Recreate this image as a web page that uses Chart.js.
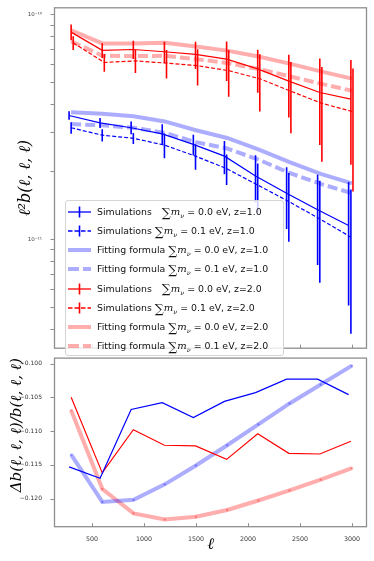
<!DOCTYPE html>
<html>
<head>
<meta charset="utf-8">
<script src="https://cdn.jsdelivr.net/npm/chart.js@4.4.1/dist/chart.umd.min.js"></script>
<style>
  html, body { margin: 0; padding: 0; background: #fff; }
  #wrap { position: relative; width: 374px; height: 561px; overflow: hidden; }
  #top { position: absolute; left: 0; top: 0; }
  #bottom { position: absolute; left: 0; top: 350px; }
  #legend {
    position: absolute; left: 65px; top: 200px; width: 217px; height: 154px;
    background: rgba(255,255,255,0.8); border: 1px solid #d4d4d4; border-radius: 3px;
    font-family: 'DejaVu Sans'; font-size: 9.4px; color: #111;
  }
  .row { position: absolute; left: 0; width: 100%; height: 16px; white-space: nowrap; }
  .row svg { position: absolute; left: 2px; top: 0; }
  .row .txt { position: absolute; left: 31px; top: 0; line-height: 16px; }
  .sum { font-family: 'DejaVu Serif'; font-size: 12.5px; vertical-align: -1.5px; }
  .m { font-family: 'DejaVu Serif'; font-style: italic; font-size: 10px; }
  .nu { font-family: 'DejaVu Serif'; font-style: italic; font-size: 6.5px; vertical-align: -2.5px; }
</style>
</head>
<body>
<div id="wrap">
  <canvas id="top" width="374" height="356"></canvas>
  <canvas id="bottom" width="374" height="211"></canvas>
  <div id="legend"></div>
</div>
<script>
// multipole bins
const ellFit = [300, 600, 900, 1200, 1500, 1800, 2100, 2400, 2700, 3000];
const ellSimB0 = [280, 578, 877, 1176, 1475, 1774, 2073, 2372, 2670, 2968];
const ellSimB1 = [300, 599, 898, 1197, 1496, 1795, 2094, 2393, 2691, 2990];
const ellSimR0 = [300, 599, 898, 1197, 1496, 1795, 2094, 2393, 2691, 2990];
const ellSimR1 = [320, 619, 918, 1217, 1516, 1815, 2114, 2413, 2711, 3010];

// top panel: l^2 b(l,l,l)
const simB0 = [3.55e-11, 3.29e-11, 3.13e-11, 2.94e-11, 2.64e-11, 2.34e-11, 1.91e-11, 1.60e-11, 1.35e-11, 1.15e-11];
const errB0 = [0.155e-11, 0.17e-11, 0.204e-11, 0.305e-11, 0.277e-11, 0.396e-11, 0.452e-11, 0.49e-11, 0.583e-11, 0.644e-11];
const simB1 = [3.13e-11, 2.90e-11, 2.81e-11, 2.62e-11, 2.34e-11, 2.06e-11, 1.74e-11, 1.47e-11, 1.23e-11, 1.02e-11];
const errB1 = [0.184e-11, 0.179e-11, 0.159e-11, 0.328e-11, 0.304e-11, 0.319e-11, 0.428e-11, 0.497e-11, 0.59e-11, 0.641e-11];
const fitB0 = [3.67e-11, 3.61e-11, 3.52e-11, 3.34e-11, 3.05e-11, 2.82e-11, 2.51e-11, 2.20e-11, 1.95e-11, 1.77e-11];
const fitB1 = [3.25e-11, 3.21e-11, 3.13e-11, 2.97e-11, 2.70e-11, 2.53e-11, 2.26e-11, 1.97e-11, 1.76e-11, 1.60e-11];
const simR0 = [8.34e-11, 6.92e-11, 6.98e-11, 6.82e-11, 6.64e-11, 6.32e-11, 5.72e-11, 5.05e-11, 4.49e-11, 4.20e-11];
const errR0 = [0.67e-11, 0.52e-11, 0.65e-11, 0.74e-11, 0.92e-11, 1.26e-11, 1.24e-11, 1.57e-11, 1.87e-11, 2.06e-11];
const simR1 = [7.47e-11, 6.11e-11, 6.21e-11, 6.07e-11, 5.91e-11, 5.62e-11, 5.17e-11, 4.55e-11, 4.02e-11, 3.69e-11];
const errR1 = [0.52e-11, 0.56e-11, 0.73e-11, 0.88e-11, 1.08e-11, 1.32e-11, 1.47e-11, 1.59e-11, 1.81e-11, 2.06e-11];
const fitR0 = [8.50e-11, 7.43e-11, 7.43e-11, 7.47e-11, 7.20e-11, 6.90e-11, 6.50e-11, 6.04e-11, 5.58e-11, 5.18e-11];
const fitR1 = [7.59e-11, 6.55e-11, 6.52e-11, 6.55e-11, 6.32e-11, 6.08e-11, 5.72e-11, 5.30e-11, 4.92e-11, 4.57e-11];

// bottom panel: relative difference
const ratioSimB = [-0.1153, -0.1170, -0.1068, -0.1058, -0.1080, -0.1056, -0.1043, -0.1023, -0.1023, -0.1046];
const ratioSimR = [-0.1050, -0.1162, -0.1098, -0.1121, -0.1122, -0.1142, -0.1104, -0.1133, -0.1134, -0.1115];
const ratioFitB = [-0.1135, -0.1205, -0.1202, -0.1179, -0.1151, -0.1121, -0.1090, -0.1059, -0.1031, -0.1003];
const ratioFitR = [-0.1069, -0.1186, -0.1222, -0.1231, -0.1227, -0.1217, -0.1203, -0.1188, -0.1172, -0.1155];

// ticks
const xTicks = [500, 1000, 1500, 2000, 2500, 3000];
const yTopMajor = [1e-11, 1e-10];
const yTopMinor = [4e-12, 5e-12, 6e-12, 7e-12, 8e-12, 9e-12, 2e-11, 3e-11, 4e-11, 5e-11, 6e-11, 7e-11, 8e-11, 9e-11];
const yBotTicks = [-0.120, -0.115, -0.110, -0.105, -0.100];

const BLUE = '#0000ff', RED = '#ff0000';
const BLUE_A = 'rgba(0,0,255,0.32)', RED_A = 'rgba(255,0,0,0.32)';

Chart.defaults.font.family = 'DejaVu Sans';

const pts = (xs, ys) => xs.map((x, i) => ({ x, y: ys[i] }));

// frame + tick marks like matplotlib
const frameTicks = {
  id: 'frameTicks',
  afterDraw(chart, args, opts) {
    const { ctx, chartArea: a, scales } = chart;
    ctx.save();
    ctx.strokeStyle = '#8e8e8e';
    ctx.lineWidth = 1;
    (opts.yTicks || []).forEach(v => {
      const y = Math.round(scales.y.getPixelForValue(v)) + 0.5;
      ctx.beginPath(); ctx.moveTo(a.left - 4, y); ctx.lineTo(a.left, y); ctx.stroke();
    });
    (opts.xTicks || []).forEach(v => {
      const x = Math.round(scales.x.getPixelForValue(v)) + 0.5;
      ctx.beginPath(); ctx.moveTo(x, a.bottom); ctx.lineTo(x, a.bottom - 3.5); ctx.stroke();
    });
    ctx.lineWidth = 1.3;
    ctx.strokeRect(a.left, a.top, a.right - a.left, a.bottom - a.top);
    ctx.restore();
  }
};

// vertical error bars (no caps)
const errorBars = {
  id: 'errorBars',
  afterDatasetsDraw(chart) {
    const { ctx, chartArea: a, scales: { x, y } } = chart;
    ctx.save();
    ctx.beginPath();
    ctx.rect(a.left, a.top, a.right - a.left, a.bottom - a.top);
    ctx.clip();
    chart.data.datasets.forEach(ds => {
      if (!ds.errors) return;
      ctx.strokeStyle = ds.borderColor;
      ctx.lineWidth = 1.6;
      ds.data.forEach((p, i) => {
        const px = x.getPixelForValue(p.x);
        ctx.beginPath();
        ctx.moveTo(px, y.getPixelForValue(p.y - ds.errors[i]));
        ctx.lineTo(px, y.getPixelForValue(p.y + ds.errors[i]));
        ctx.stroke();
      });
    });
    ctx.restore();
  }
};

function simSet(xs, ys, errs, color, dashed) {
  return { data: pts(xs, ys), errors: errs, borderColor: color, borderWidth: 1.2,
           borderDash: dashed ? [4, 2] : [], pointRadius: 0, order: 1 };
}
function fitSet(xs, ys, color, dashed, dots) {
  return { data: pts(xs, ys), borderColor: color, backgroundColor: color, borderWidth: 4,
           borderDash: dashed ? [10, 4] : [], pointRadius: dots ? 1.2 : 0, pointBorderWidth: 0, order: 2 };
}

const titleFont = { family: 'DejaVu Serif', style: 'italic', size: 16 };

new Chart(document.getElementById('top'), {
  type: 'line',
  data: {
    datasets: [
      simSet(ellSimB0, simB0, errB0, BLUE, false),
      simSet(ellSimB1, simB1, errB1, BLUE, true),
      fitSet(ellFit, fitB0, BLUE_A, false),
      fitSet(ellFit, fitB1, BLUE_A, true),
      simSet(ellSimR0, simR0, errR0, RED, false),
      simSet(ellSimR1, simR1, errR1, RED, true),
      fitSet(ellFit, fitR0, RED_A, false),
      fitSet(ellFit, fitR1, RED_A, true)
    ]
  },
  options: {
    responsive: false,
    animation: false,
    devicePixelRatio: 1,
    layout: { padding: { top: 6, right: 7.5, bottom: 3, left: 0 } },
    scales: {
      x: { type: 'linear', min: 140, max: 3140, display: false },
      y: {
        type: 'logarithmic', min: 3.27e-12, max: 1.07e-10,
        afterFit: s => { s.width = 54.5; },
        afterBuildTicks: s => { s.ticks = yTopMajor.map(v => ({ value: v })); },
        grid: { display: false },
        border: { display: false },
        ticks: {
          padding: 4.5, color: '#444', font: { size: 5.5 },
          callback: v => Math.round(Math.log10(v)) === -10 ? '10\u207B\u00B9\u2070' : '10\u207B\u00B9\u00B9'
        },
        title: { display: true, text: 'ℓ²b(ℓ, ℓ, ℓ)', color: '#000', font: titleFont, padding: { top: 16.4, bottom: 0 } }
      }
    },
    plugins: {
      legend: { display: false },
      tooltip: { enabled: false },
      frameTicks: { yTicks: yTopMajor.concat(yTopMinor), xTicks: xTicks }
    }
  },
  plugins: [errorBars, frameTicks]
});

new Chart(document.getElementById('bottom'), {
  type: 'line',
  data: {
    datasets: [
      fitSet(ellFit, ratioFitB, BLUE_A, false, true),
      fitSet(ellFit, ratioFitR, RED_A, false, true),
      { data: pts(ellSimB0, ratioSimB), borderColor: BLUE, borderWidth: 1.2, pointRadius: 0, order: 1 },
      { data: pts(ellSimR0, ratioSimR), borderColor: RED, borderWidth: 1.2, pointRadius: 0, order: 1 }
    ]
  },
  options: {
    responsive: false,
    animation: false,
    devicePixelRatio: 1,
    layout: { padding: { top: 3, right: 7.5, bottom: 0, left: 0 } },
    scales: {
      x: {
        type: 'linear', min: 140, max: 3140,
        afterFit: s => { s.height = 34.3; },
        afterBuildTicks: s => { s.ticks = xTicks.map(v => ({ value: v })); },
        grid: { display: false },
        border: { display: false },
        ticks: { padding: 1.3, color: '#333', font: { size: 6.3 }, maxRotation: 0, callback: v => String(v) },
        title: { display: true, text: 'ℓ', color: '#000', font: titleFont, padding: { top: 0, bottom: 6.4 } }
      },
      y: {
        type: 'linear', min: -0.12418, max: -0.09918,
        afterFit: s => { s.width = 54.5; },
        afterBuildTicks: s => { s.ticks = yBotTicks.map(v => ({ value: v })); },
        grid: { display: false },
        border: { display: false },
        ticks: { padding: 4.5, color: '#333', font: { size: 6 }, callback: v => '\u2212' + Math.abs(v).toFixed(3) },
        title: { display: true, text: 'Δb(ℓ, ℓ, ℓ)/b(ℓ, ℓ, ℓ)', align: 'end', color: '#000',
                 font: { family: 'DejaVu Serif', style: 'italic', size: 15 }, padding: { top: 8.5, bottom: 0 } }
      }
    },
    plugins: {
      legend: { display: false },
      tooltip: { enabled: false },
      frameTicks: { yTicks: yBotTicks, xTicks: xTicks }
    }
  },
  plugins: [frameTicks]
});

// legend (matplotlib style box)
const legendRows = [
  { kind: 'sim', color: BLUE, dashed: false, label: 'Simulations', gap: 7, mnu: '0.0', z: '1.0' },
  { kind: 'sim', color: BLUE, dashed: true,  label: 'Simulations', gap: 0, mnu: '0.1', z: '1.0' },
  { kind: 'fit', color: BLUE, dashed: false, label: 'Fitting formula', gap: 0, mnu: '0.0', z: '1.0' },
  { kind: 'fit', color: BLUE, dashed: true,  label: 'Fitting formula', gap: 0, mnu: '0.1', z: '1.0' },
  { kind: 'sim', color: RED,  dashed: false, label: 'Simulations', gap: 7, mnu: '0.0', z: '2.0' },
  { kind: 'sim', color: RED,  dashed: true,  label: 'Simulations', gap: 0, mnu: '0.1', z: '2.0' },
  { kind: 'fit', color: RED,  dashed: false, label: 'Fitting formula', gap: 0, mnu: '0.0', z: '2.0' },
  { kind: 'fit', color: RED,  dashed: true,  label: 'Fitting formula', gap: 0, mnu: '0.1', z: '2.0' }
];

const legendEl = document.getElementById('legend');
legendRows.forEach((r, i) => {
  const row = document.createElement('div');
  row.className = 'row';
  row.style.top = (12.3 + 19.06 * i - 8 - 1) + 'px';
  let svg;
  if (r.kind === 'sim') {
    svg = `<svg width="23" height="16"><line x1="0" y1="8" x2="23" y2="8" stroke="${r.color}" stroke-width="1.3"${r.dashed ? ' stroke-dasharray="4.5 2"' : ''}/>` +
          `<line x1="11.5" y1="2.5" x2="11.5" y2="13.5" stroke="${r.color}" stroke-width="1.6"/></svg>`;
  } else {
    svg = `<svg width="23" height="16"><line x1="0" y1="8" x2="23" y2="8" stroke="${r.color}" stroke-opacity="0.32" stroke-width="4"${r.dashed ? ' stroke-dasharray="11 4"' : ''}/></svg>`;
  }
  row.innerHTML = svg +
    `<span class="txt">${r.label} <span class="sum" style="margin-left:${r.gap}px">∑</span><span class="m">m</span><span class="nu">ν</span> = ${r.mnu} eV, z=${r.z}</span>`;
  legendEl.appendChild(row);
});
</script>
</body>
</html>
